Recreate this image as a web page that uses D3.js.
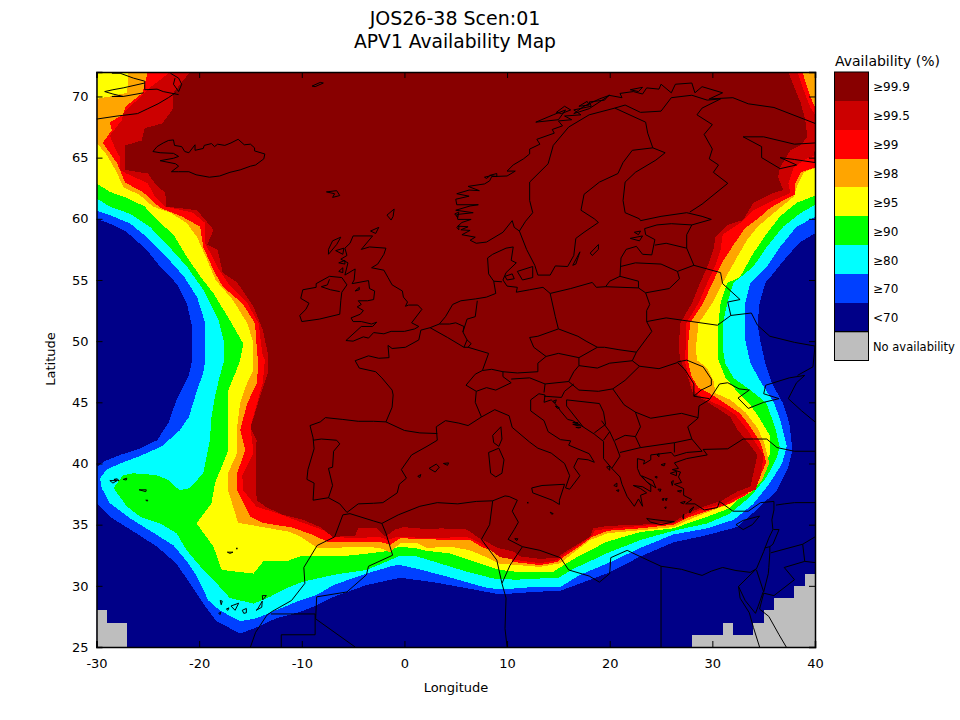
<!DOCTYPE html>
<html>
<head>
<meta charset="utf-8">
<script src="https://cdnjs.cloudflare.com/ajax/libs/d3/7.8.5/d3.min.js"></script>
<style>
html, body { margin: 0; padding: 0; background: #fff; }
text { font-family: "DejaVu Sans", sans-serif; fill: #000; }
</style>
</head>
<body>
<svg id="chart" width="960" height="720"></svg>
<script>
// legend rows, top to bottom
var legendLabels = ["≥99.9", "≥99.5", "≥99", "≥98", "≥95", "≥90", "≥80", "≥70", "<70", "No availability"];
var legendColors = ["#880000", "#cc0000", "#ff0000", "#ffa500", "#ffff00", "#00ff00", "#00ffff", "#0040ff", "#000088", "#bebebe"];
var lonTicks = [-30, -20, -10, 0, 10, 20, 30, 40];
var latTicks = [25, 30, 35, 40, 45, 50, 55, 60, 65, 70];

// availability contours as [lon, lat], read west to east round the coverage area
var contour70 = [[-30,60],[-28.7,59.6],[-27.1,58.95],[-25.1,57.45],[-23.8,56.1],[-22.2,54.7],[-21.2,53.1],[-20.7,51.2],[-20.65,48.5],[-21.05,47.1],[-22.2,45.2],[-23,43.3],[-24.1,41.9],[-25.8,41.2],[-27.7,40.7],[-29.3,40.15],[-30,39.7],[-30,36.75],[-28.7,35.65],[-26.7,34.6],[-24.1,33.2],[-22.2,31.8],[-20.9,30.2],[-19.4,28.3],[-18.3,27.1],[-16,26.1],[-14.1,26.7],[-12.5,27.35],[-10.2,27.85],[-8.55,28.4],[-6.9,29.1],[-3.7,30.06],[-0.43,30.66],[2.8,30.3],[6.1,29.8],[9.3,29.3],[12.6,29.5],[15.2,29.6],[17.45,30.3],[19.7,31],[23,32.4],[26.2,33.55],[29.5,34.15],[32.4,34.8],[34.3,36.2],[36.3,37.8],[37.4,39.7],[37.8,41.1],[37.5,43.3],[36.9,44.9],[35.8,46.55],[35.15,48.2],[34.65,50.1],[34.4,51.45],[34.6,53.1],[35.15,54.75],[36,55.6],[37.25,56.9],[38.55,58.1],[40,58.8]];
var contour80 = [[-30,60.66],[-28.7,60.3],[-26.7,59.6],[-25.1,58.5],[-23.2,56.9],[-21.5,55.3],[-20.2,53.6],[-19.4,51.45],[-19.4,48.45],[-19.6,47.4],[-20.2,46],[-21,43.8],[-21.9,42.7],[-23.65,41.4],[-25.8,40.6],[-27.7,40],[-29,39.5],[-29.65,38.8],[-29.5,38],[-28.7,36.75],[-26.7,35.5],[-24.1,34.15],[-22.5,33.3],[-21.2,32],[-20.2,30.75],[-19.1,28.8],[-18,28],[-16,27.1],[-14.4,27.35],[-12.8,27.9],[-10.5,28.7],[-8.55,29.25],[-6.9,30.07],[-3.7,31],[-1.1,31.65],[-0.43,31.7],[1.2,31.4],[4.4,30.7],[7.7,29.9],[9.3,29.7],[12.6,29.9],[15.2,29.9],[17.1,30.9],[19.7,31.8],[23,33.1],[26.2,34.2],[29.5,34.7],[32.1,35.4],[34,36.7],[35.6,38.4],[36.8,40],[37.25,41.4],[36.7,43.3],[36.05,44.9],[34.8,46.55],[33.7,48.2],[33.2,50.1],[33.2,51.45],[33.2,53.1],[33.7,54.75],[35.3,56.05],[36.6,57.7],[38.2,59.35],[40,60.15]];
var contour90 = [[-30,61.67],[-28.7,61],[-26.7,60.4],[-24.8,59.35],[-22.8,57.6],[-21.2,56.1],[-19.6,54.2],[-18.1,51.7],[-17.55,49.8],[-17.55,48.45],[-18,47.1],[-18.45,45.5],[-18.8,43.8],[-18.95,41.9],[-19.6,39.2],[-20.9,38],[-21.9,37.8],[-23,38.65],[-24.15,39.05],[-26.4,39.2],[-27.4,39.05],[-28.35,38],[-27.05,36.5],[-25.75,35.65],[-23.8,35.1],[-22.2,34.3],[-21.2,32.9],[-19.9,31.6],[-18.3,30.2],[-17,29],[-14.7,28.55],[-13.1,29.1],[-11.5,29.8],[-9.85,30.35],[-6.9,30.9],[-3.7,31.3],[-1.4,32.1],[-0.43,32.46],[1.2,32.4],[2.8,32],[6.1,31.15],[8.66,30.6],[10.9,30.5],[13.2,30.6],[14.9,30.6],[16.5,31.4],[19.7,32.65],[23,33.75],[26.2,34.5],[29.5,35.1],[31.7,35.9],[33.7,37.3],[35.3,38.9],[36.3,40.55],[36.55,41.4],[36.1,43],[35.25,44.95],[33.7,46],[32.05,47],[31.25,48.2],[31,49.5],[31,50.3],[31.05,51.5],[31.45,53.1],[32.05,54.75],[34,56.1],[35.3,57.7],[36.9,59.35],[38.55,60.45],[40,61.13]];
var contour95 = [[-30,62.9],[-28.7,62.2],[-27,61.7],[-25.3,61],[-24.1,59.9],[-22.5,58.7],[-21.2,56.9],[-19.9,55.3],[-18.6,53.9],[-17,51.7],[-15.7,49.8],[-16,48.45],[-16.35,47.65],[-17.15,46],[-17.15,43.55],[-17.15,41.1],[-18.45,38.4],[-18.8,36.75],[-20.25,35.1],[-18.6,33.2],[-17.8,31.3],[-14.7,31],[-13.75,32],[-11.5,32],[-10.2,32.4],[-6.9,32.4],[-5,32.5],[-2,32.8],[-0.43,33.2],[1.2,33.06],[1.85,32.9],[4.4,32.65],[6.7,32],[9.3,31.3],[10.9,31.15],[13.5,31.15],[14.5,31.15],[16.5,32.2],[19.7,33.6],[23,34.4],[26.2,34.7],[29.5,35.65],[31.7,36.35],[33.35,37.8],[34.85,39.5],[35.65,40.85],[35.65,42.2],[34.7,43.55],[33.7,44.8],[32.45,45.85],[31.25,47.05],[30.6,48.45],[30.5,49.5],[30.6,51.5],[30.8,53.1],[31.45,54.75],[32.7,55.25],[34,57.2],[35.3,58.8],[36.6,60.2],[38.2,61.3],[40,61.9]];
var contour98 = [[-26.9,72],[-27,70.3],[-28.7,70],[-30,69.8],[-30,66.2],[-29.2,65.45],[-28.7,64.8],[-28,63.75],[-27.4,62.6],[-25.8,61.95],[-24.5,61],[-22.8,60.5],[-21.2,59.65],[-20.2,58.5],[-19.2,56.6],[-18.4,55],[-16.7,53.35],[-15.3,51.45],[-14.7,49.8],[-14.8,48.45],[-14.7,47.65],[-15.5,46.25],[-16,44.95],[-16.3,43],[-16.3,40.85],[-17.2,39.2],[-17.2,37.85],[-16.2,35.15],[-13.8,34.8],[-11.1,34.4],[-9.9,33.9],[-8.5,33.1],[-6.95,33.1],[-4.3,33.2],[-2.4,33.1],[-1.4,32.75],[-0.4,33.5],[1.2,33.5],[2.2,33.1],[4.5,33.2],[6.4,32.9],[8.1,32.3],[9.3,31.8],[11,31.7],[13.2,31.55],[15.2,31.85],[16.45,32.7],[18.1,33.75],[19.8,34.3],[23,34.55],[26.2,34.8],[27.85,35.45],[30.1,36.2],[31.9,36.75],[33.7,37.6],[34.85,38.65],[35.55,40.05],[35.05,41.7],[34.4,42.9],[33.2,44.2],[31.75,45.2],[30.3,45.75],[30.1,46.8],[29.5,47.8],[28.5,48.45],[28.4,49.5],[28.65,51.45],[30,53.1],[31,54.75],[32.4,56.85],[33.4,58.3],[34.4,59.35],[35.95,60.45],[37.9,61.8],[38.3,62.75],[38.9,63.8],[40,64.15],[40,72]];
var contour99 = [[-25,72],[-25.5,70.3],[-27.2,69.15],[-27.4,68.5],[-28.7,67.9],[-28.5,67.25],[-29.4,66.2],[-28.7,65.4],[-28,64.55],[-27.2,62.95],[-25.5,62.2],[-23.8,60.9],[-21.6,60.15],[-19.9,59.35],[-19.6,57.7],[-18.6,55.8],[-17.7,54.45],[-15.8,53.1],[-14.55,51.45],[-14.35,49],[-14.25,48.45],[-14.35,46.6],[-15.3,44.95],[-16,42.75],[-15.5,41.1],[-16.3,39.2],[-16.3,37.85],[-15,35.65],[-13.8,35.15],[-10.85,34.75],[-8.9,34.15],[-7.5,33.6],[-4.6,33.6],[-2.4,33.6],[-1.4,33.35],[-0.4,33.9],[1.8,33.8],[6.4,33.75],[7.7,33.1],[10,32.7],[10.6,31.95],[13.2,31.7],[14.9,31.95],[15.5,32.35],[17.1,33.25],[18.3,34],[19.8,34.5],[23,34.7],[26.2,35],[27.65,35.6],[29.8,36.2],[31.75,36.75],[33.4,37.5],[34.5,38.65],[35.25,40.1],[34.7,41.7],[33.7,43],[32.7,44.1],[31.45,44.8],[30,45.6],[28.65,46.2],[28,47.05],[27.6,48.45],[27.6,49.5],[27.85,51.5],[29.1,53.1],[30,54.75],[31,56.5],[32.05,57.85],[33.2,59.25],[34.5,60.05],[35.65,60.9],[36.9,61.5],[38.1,62],[38.1,62.9],[38.6,63.8],[40,64.2],[40,69.15],[39.55,69.95],[39.1,71.1],[38.8,72]];
var contour995 = [[-22.8,72],[-24.6,70.85],[-25.8,69.9],[-27.4,68.65],[-27.5,68.1],[-28.7,66.8],[-28.2,65.8],[-27.7,65],[-27.7,64],[-27.2,63.75],[-25,62.9],[-24.3,61.8],[-23.3,61],[-20.6,60.5],[-19.4,59.65],[-19.4,58],[-18.2,56.05],[-17.2,54.75],[-15.3,53.1],[-14.2,51.45],[-13.85,49],[-13.6,48.45],[-13.8,46.6],[-15,43],[-14.7,40.85],[-15.8,39.05],[-15.7,37.8],[-14.4,36.45],[-12.4,35.95],[-9.9,35.15],[-7.9,34.55],[-6.9,34],[-4.8,33.9],[-2.4,34],[-1.7,33.75],[-0.7,34],[2.8,33.9],[6.1,34],[7.4,33.5],[9.3,32.35],[11,32.1],[13.2,31.85],[14.9,32.1],[15.5,32.55],[17.1,33.4],[18.3,34.15],[18.6,34.55],[23,34.9],[26.2,35.1],[27.6,35.7],[29.1,36.3],[31.3,36.75],[32.7,37.4],[34.2,37.85],[34.7,39],[35,40.7],[34.2,41.7],[33.4,42.75],[32.2,44],[31.1,44.6],[29.1,45.35],[28.3,45.85],[27.7,47.05],[27.3,48.45],[27.4,49.4],[27.4,51.4],[28.65,53.1],[29.5,54.75],[30.3,56.2],[30.8,57.45],[31,58.7],[32.7,59.65],[34,60.7],[35.9,61.5],[37.6,62.1],[37.4,62.9],[37.9,64.15],[38.9,64.8],[40,65.2],[40,68.5],[39.55,69.1],[38.9,70.5],[38.3,72]];
var contour999 = [[-20.9,72],[-22.5,70.3],[-22.6,68.9],[-23.6,67.8],[-25.3,67.4],[-25.6,66.4],[-27.2,66],[-27.2,64],[-25,63.7],[-24.3,62.9],[-23.3,62.1],[-23.2,61],[-20.2,60.7],[-19.2,59.7],[-18.6,59.1],[-19.2,57.9],[-18.2,57.45],[-17.7,55.6],[-16.3,54.8],[-14.7,52.8],[-13.8,50.9],[-13.3,49],[-13.3,47.4],[-14.1,45.4],[-15,42.9],[-14.4,41.9],[-14.5,40.3],[-14.4,37],[-13.4,36.4],[-11.8,35.8],[-9.9,35.4],[-8.2,34.8],[-7,34],[-4.8,34.1],[-4.5,34.7],[-2.7,34.7],[-1.9,34],[-0.9,34.6],[-0.1,34.8],[2.8,34.6],[3.5,34.7],[6.1,34.6],[7.1,34],[9.1,33.1],[10.6,32.8],[11.3,32.4],[13.2,32.2],[14.9,32.3],[15.5,32.7],[17.1,33.5],[18.1,34],[18.4,34.7],[19.8,34.9],[23,35],[26.2,35.2],[27.6,35.95],[29.1,36.45],[31,37],[32.4,37.7],[33.7,38.1],[34,39.2],[34.4,40.7],[33.5,41.7],[32.5,42.7],[31.75,43.8],[30.5,44.5],[28.1,45.75],[27.6,47.1],[26.9,48.45],[26.7,49.5],[26.9,51.5],[28,53.1],[28.8,54.75],[29.5,56.05],[30.1,57.45],[30.3,58.5],[31.45,59.5],[33,59.9],[34,61.3],[35.9,62.1],[36.9,62.35],[36.4,63.4],[36.6,64.2],[37.6,65.6],[38.6,66],[39.25,66.7],[39.05,68.1],[38.6,69.5],[38.1,70.5],[37.4,72]];

// no-availability grid cells: [west lon, east lon, top lat], all from the bottom of the map
var noAvailCells = [[-30,-29,28],[-29,-27,27],[28,31,26],[31,32,27],[32,34,26],[34,35,27],[35,36,28],[36,38,29],[38,39,30],[39,40,31]];

// coast and border outlines, [lon, lat]
var coastEurope = [[-1.8,43.4],[-3,43.45],[-4.5,43.45],[-6,43.6],[-7.7,43.75],[-8.2,43.4],[-9.2,43.1],[-8.9,42.1],[-8.8,41.2],[-9.4,39.5],[-9.5,38.7],[-8.8,38.4],[-8.9,37],[-7.4,37.2],[-6.3,36.7],[-5.6,36],[-4.5,36.7],[-3,36.75],[-2.1,36.8],[-0.7,37.6],[-0.5,38.3],[0.2,38.8],[-0.3,39.5],[0.7,40.7],[2.2,41.4],[3.2,41.9],[3.1,43],[4,43.5],[5.3,43.3],[6.2,43.1],[7.5,43.8],[8.8,44.4],[10.2,43.9],[10.5,42.95],[12.2,41.75],[13,41.25],[14.3,40.85],[15.6,40],[16.1,39],[15.7,38],[16.1,37.9],[17.1,39],[16.5,39.7],[16.9,40.4],[17.9,40.3],[18.5,40.1],[18,40.8],[16,41.5],[16.2,41.85],[15.2,41.95],[14,42.6],[13.6,43.5],[12.3,44.3],[12.3,45.2],[13.1,45.7],[13.7,45.6],[13.6,45],[14.3,45.2],[14.9,44.7],[15.2,44.3],[15.9,43.6],[16.4,43.5],[17.4,43],[18.5,42.4],[19.4,41.8],[19.4,40.4],[20.2,39.6],[21,38.9],[21.2,38.3],[21.7,37.3],[22.4,36.5],[22.8,37.1],[23.2,36.5],[23,37.4],[23.6,37.6],[23,37.95],[22.3,38.2],[23.2,38.1],[24,37.7],[24,38.2],[23,39],[22.7,39.6],[22.7,40.4],[23.4,40.25],[23.3,39.95],[24,40.3],[24,40.7],[26,40.9],[26.3,40.6],[27.5,40.9],[29,41],[28,42],[27.6,43],[28.6,43.7],[28.7,44.7],[29.7,45.2],[30.7,46.5],[31.5,46.6],[32.6,46.1],[33.6,46],[32.5,45.35],[33.5,44.5],[35,45],[36.5,45.3],[35,45.7],[35.2,46.4],[37.5,47],[39,47.2],[38.2,46.6],[37.4,45.3],[38.7,44.3],[40,43.4]];
var coastTurkeyEgypt = [[40,41],[38,41],[36.3,41.3],[35.3,42],[34,42],[33,42],[31.5,41.2],[29.1,41.15],[29.5,40.7],[27.5,40.4],[26.3,40.05],[26.7,39.6],[26.1,39.5],[26.9,39.3],[26.7,38.9],[27,38.45],[26.3,38.3],[27.2,37.95],[27.2,37.4],[28,37.05],[27.4,36.7],[28.3,36.7],[29.2,36.2],[30.5,36.4],[30.7,36.9],[32,36.1],[33.5,36.1],[34.7,36.8],[36,36.9],[36,36.2],[35.8,35.4],[35.9,34.6],[35.5,33.9],[35,32.8],[34.3,31.4],[33.7,31.1],[32.3,31.25],[31,31.5],[29.9,31.2],[29,30.85],[27,31.35],[25,31.6],[23.2,32.3],[21.7,32.9],[20.1,32.3],[20,31],[19,30.3],[18,30.8],[16,31.3],[15.2,32.3],[13.2,32.9],[11.5,33.2],[10.1,33.8],[10.7,34.6],[11.1,35.2],[10.5,36.1],[11,37],[10.2,37.3],[9.8,37.35],[8.6,36.95],[7,36.9],[5.2,36.7],[3.2,36.8],[1.5,36.5],[-0.6,35.8],[-2.2,35.1],[-3,35.3],[-5.3,35.9],[-6,35.8],[-6.8,34],[-8.5,33.3],[-9.8,31.5],[-9.7,30.2],[-11,28.8],[-12.9,27.9],[-13.4,27.6],[-14.5,26.2],[-15,25]];
var coastRedSea = [[34.3,31.4],[32.55,29.95],[33.2,28.8],[34.2,27.75],[34.45,28.3],[34.95,29.5]];
var coastRedSea2 = [[32.55,29.95],[32.7,29],[33.6,27.8],[34,26.6],[34.6,25]];
var coastRedSea3 = [[35,29.4],[34.6,28.1],[35.5,27.5],[36.5,26],[37.2,25]];
var coastNorthWest = [[-1.8,43.4],[-1.2,44.6],[-1.1,45.6],[-1.2,46],[-2.2,47],[-2.8,47.5],[-4.4,47.8],[-4.8,48.4],[-3.5,48.8],[-2.5,48.6],[-1.5,48.65],[-1.6,49.65],[-1.2,49.4],[0.1,49.5],[1.4,50.1],[1.6,50.9],[2.5,51.1],[3.4,51.4],[4,52],[4.7,53],[5.5,53.3],[6.9,53.45],[8,53.6],[8.9,53.9],[8.7,54.9],[8.2,55.5],[8.1,56.8],[8.6,57.1],[9.9,57.6],[10.6,57.7],[10.4,56.6],[10.9,56.4],[9.9,55.6],[9.6,55],[10,54.5],[11,54.4],[10.9,54],[12.2,54.2],[13.5,54.4],[14.2,53.9],[16.2,54.3],[18.3,54.8],[18.7,54.4],[19.6,54.45],[20,54.9],[21,55.3],[21.1,56.8],[21.6,57.5],[22.6,57.75],[23.2,57.1],[24.1,57.05],[24.4,58.3],[23.5,58.7],[23.4,59.2],[24.6,59.5],[26,59.6],[28,59.5],[29.9,59.95],[29,60.2],[27.5,60.5],[25,60.2],[23,59.85],[22.9,60],[21.5,60.5],[21.3,61.5],[21.5,63],[22.5,63.8],[24.5,64.8],[25.4,65.4],[24.2,65.8],[22.2,65.6],[21.3,64.6],[20.8,63.7],[19,63],[17.5,62],[17.2,60.7],[18.5,60],[18.9,59.7],[17.5,58.9],[16.7,58.4],[16.5,57],[15.9,56.1],[14.7,56.15],[14.2,55.4],[13,55.4],[12.7,56.2],[11.9,57.5],[11.2,59],[10.7,59.3],[10.5,59.85],[9.6,58.9],[8,58.1],[7,58],[6.4,58.25],[6.9,58.5],[5.6,58.7],[6.4,59.05],[5.5,59.1],[6.2,59.35],[5.2,59.4],[5.6,59.7],[6.5,59.95],[5.2,59.95],[5.1,60.35],[6.7,60.5],[5,60.7],[6.4,61.05],[7.2,61.15],[5.1,61.15],[5,61.6],[6.3,61.85],[5.1,62.05],[6.3,62.35],[7.3,62.3],[6.2,62.65],[7.8,62.85],[8.3,63.1],[8.5,63.45],[10,63.5],[10.8,63.9],[10,63.9],[10.6,64.4],[11.6,64.9],[12.2,65.3],[12.2,65.7],[13.2,66.1],[12.9,66.5],[14.6,67],[14.4,67.3],[15.4,67.6],[15,68],[16.3,68.1],[15.6,68.4],[17.2,68.5],[16.5,68.9],[18.2,69.2],[18,69.55],[19.5,69.7],[19.9,70.1],[21.2,69.9],[21,70.25],[22.3,70.4],[23.2,70.2],[23.6,70.7],[24.8,70.6],[25,71],[26,70.3],[26.4,71],[28,71.1],[28.3,70.3],[29,70.8],[31,70.3],[29.7,69.8],[32,69.9],[33.5,69.4],[36,69.1],[40,67.8],[41,66.8],[40,66.2],[38,66.1],[35,66.7],[33,66.7],[34.8,65.9],[34.8,65],[36.6,64.1],[38.2,64.4],[36.6,65],[38,64.85],[40,64.6],[40,65.5]];
var coastBritain = [[-5.7,50.05],[-5,50],[-4,50.35],[-3.5,50.25],[-3,50.7],[-2,50.6],[-1.3,50.8],[0,50.8],[1,51],[1.4,51.2],[0.7,51.5],[1.7,52.6],[1.3,52.95],[0.4,52.95],[0.1,52.85],[0.3,53.2],[-0.1,53.6],[-0.2,54.1],[-1.2,54.6],[-1.6,55.2],[-2,55.8],[-3.2,56],[-2.6,56.3],[-2,57.1],[-1.8,57.6],[-3.4,57.7],[-4.2,57.5],[-3.1,58.6],[-5,58.6],[-5.3,58],[-5.8,57.6],[-5.6,57],[-6.2,56.7],[-5.5,56.4],[-5.8,55.4],[-4.8,55.9],[-4.9,55],[-5.1,54.7],[-3.5,54.95],[-3.4,54.3],[-2.9,54.1],[-3,53.4],[-3.6,53.3],[-4.5,53.3],[-4.2,53],[-4.6,52.8],[-4,52.5],[-4.3,52.2],[-5.2,51.9],[-5,51.6],[-4.2,51.6],[-3.2,51.4],[-2.7,51.55],[-3.1,51.2],[-4.2,51.2],[-5.7,50.05]];
var coastIreland = [[-6.3,52.2],[-8.3,51.8],[-10,51.6],[-10.2,52.1],[-9.6,52.6],[-9.3,53.1],[-10.1,53.5],[-9.9,54.2],[-8.6,54.4],[-8.6,54.7],[-7.3,55.3],[-6.1,55.2],[-5.6,54.6],[-6.1,54],[-6.2,53.3],[-6.3,52.2]];
var coastIceland = [[-22.7,63.85],[-22,63.85],[-21,63.85],[-20.3,63.6],[-19,63.4],[-18,63.5],[-17,63.8],[-16,64],[-15,64.3],[-14.5,64.4],[-13.7,64.9],[-13.6,65.3],[-14.6,65.55],[-14.6,65.8],[-15,66.1],[-15.6,66.05],[-16.2,66.5],[-16.9,66.2],[-17.5,66],[-18.2,66.1],[-18.5,65.9],[-18.8,66.15],[-19.5,66],[-19.6,65.75],[-20.4,65.6],[-20.4,66.05],[-21,65.4],[-21.4,65.5],[-21.7,65.9],[-22.4,66],[-22.5,66.45],[-23,66.4],[-23.5,66.2],[-24.1,65.9],[-24.5,65.5],[-23.8,65.4],[-22.5,65.35],[-22,65.1],[-22.5,64.95],[-23.8,64.75],[-22.3,64.5],[-22,64.3],[-22.7,63.85]];
var coastGreenland = [[-30,68.15],[-28,68.4],[-26,68.6],[-25,69],[-24,69.4],[-23,69.9],[-22.3,70.3]];
var coastGreenland2 = [[-22,70.15],[-23.5,70.4],[-24.1,70.6],[-25.3,70.55],[-25.3,71.25],[-26.4,71.5],[-27.7,71.9],[-28.5,71.9]];
var coastGreenland3 = [[-25.3,71.1],[-27.4,70.7],[-28.4,70.55],[-29.2,70.4],[-28.4,70.2],[-27.4,70],[-28.5,70],[-27.4,70],[-25.4,70.3]];
var coastGreenland4 = [[-22.8,71.9],[-22,71.5],[-21.7,71],[-22,70.4],[-22.5,71],[-22.35,71.5]];
var islandJanMayen = [[-9,70.85],[-8.2,71.15],[-7.9,71.1],[-8.7,70.8],[-9,70.85]];
var islandFaroe = [[-7.6,62.2],[-6.6,62.3],[-6.3,61.9],[-7,61.75],[-6.8,62.05],[-7.6,62.2]];
var islandShetland = [[-1.7,60.3],[-1,60.8],[-1.1,60.2],[-1.3,59.9],[-1.7,60.3]];
var islandOrkney = [[-3.3,59],[-2.5,59.3],[-2.8,58.8],[-3.3,59]];
var islandLewis = [[-6.2,58.5],[-7,58.2],[-7.4,57.5],[-7.4,57.1],[-6.6,57.9],[-6.2,58.5]];
var islandSkye = [[-6.7,57.4],[-5.9,57.6],[-6,57.1],[-6.7,57.4]];
var islandMull = [[-6.4,56.4],[-5.8,56.6],[-5.8,56.3],[-6.4,56.4]];
var islandIslay = [[-6.4,55.7],[-6,56],[-6,55.6],[-6.4,55.7]];
var islandMan = [[-4.8,54.1],[-4.4,54.4],[-4.4,54.2],[-4.8,54.1]];
var islandCyprus = [[32.3,35],[33,35.35],[34.6,35.7],[33.9,35],[33,34.6],[32.3,35]];
var islandCrete = [[23.6,35.5],[24.5,35.4],[25.5,35.3],[26.3,35.25],[25,35],[24,35.2],[23.6,35.5]];
var islandSicily = [[12.4,38],[13.4,38.2],[15.6,38.3],[15.1,37],[15.1,36.65],[14.4,37],[12.5,37.6],[12.4,38]];
var islandSardinia = [[8.2,40.9],[9.2,41.25],[9.7,40.3],[9.5,39.2],[8.9,38.9],[8.4,39.2],[8.2,40.9]];
var islandCorsica = [[8.6,42.3],[9.4,43],[9.5,42],[9.2,41.4],[8.7,41.7],[8.6,42.3]];
var islandMallorca = [[2.4,39.6],[3.1,39.95],[3.4,39.7],[3,39.3],[2.4,39.6]];
var islandMenorca = [[3.8,40],[4.3,40.05],[4.2,39.85],[3.8,40]];
var islandIbiza = [[1.3,38.95],[1.6,39.1],[1.5,38.85],[1.3,38.95]];
var islandGotland = [[18.1,57.2],[18.9,57.9],[18.9,57.5],[18.3,57],[18.1,57.2]];
var islandOland = [[16.4,56.2],[17.1,57.3],[16.7,56.3],[16.4,56.2]];
var islandZealand = [[11,55.7],[12.5,56.1],[12.5,55.2],[11.5,55],[11,55.7]];
var islandFunen = [[9.8,55.3],[10.5,55.5],[10.7,55.1],[10,55],[9.8,55.3]];
var islandSaaremaa = [[22,58.4],[23.2,58.6],[22.9,58.2],[22,58.4]];
var islandHiiumaa = [[22.4,58.9],[23,59],[22.8,58.7],[22.4,58.9]];
var islandLofoten = [[12.8,67.9],[14.5,68.5],[15.7,68.9],[15,68.1],[12.8,67.9]];
var islandTroms = [[16.5,68.6],[17.5,69.2],[19,69.8],[20,70.1],[18,69],[16.5,68.6]];
var islandVesteralen = [[14.8,68.7],[15.6,69.2],[16.2,68.9],[15.3,68.6],[14.8,68.7]];
var islandSenja = [[17,69.2],[17.8,69.6],[18,69.3],[17,69.2]];
var islandSoroya = [[22,70.55],[23.2,70.75],[22.8,70.4],[22,70.55]];
var islandHitra = [[8.3,63.55],[9,63.7],[9,63.45],[8.3,63.55]];
var islandSmola = [[7.8,63.4],[8.3,63.5],[8,63.3],[7.8,63.4]];
var islandSotra = [[4.9,60.4],[5.3,60.55],[5.2,60.1],[4.9,60.4]];
var islandKarmoy = [[5.1,59.3],[5.3,59.45],[5.3,59.1],[5.1,59.3]];
var islandEvia = [[23.1,39],[24.2,38.6],[24.5,38],[23.6,38.5],[23.1,39]];
var islandLesbos = [[25.9,39.2],[26.5,39.35],[26.5,39],[25.9,39.2]];
var islandChios = [[26,38.5],[26.2,38.6],[26.1,38.2],[26,38.5]];
var islandSamos = [[26.6,37.75],[27,37.8],[26.9,37.65],[26.6,37.75]];
var islandRhodes = [[27.8,36.2],[28.2,36.45],[27.8,35.95],[27.8,36.2]];
var islandKos = [[26.9,36.8],[27.35,36.9],[27.2,36.7],[26.9,36.8]];
var islandNaxos = [[25.4,37.1],[25.6,37.15],[25.5,36.95],[25.4,37.1]];
var islandParos = [[25.1,37.1],[25.3,37.15],[25.2,36.95],[25.1,37.1]];
var islandAndros = [[24.7,37.9],[25,37.9],[24.9,37.7],[24.7,37.9]];
var islandSantorini = [[25.35,36.4],[25.5,36.45],[25.45,36.3],[25.35,36.4]];
var islandKarpathos = [[27.1,35.6],[27.2,35.85],[27.2,35.45],[27.1,35.6]];
var islandLemnos = [[25,39.9],[25.4,40],[25.3,39.8],[25,39.9]];
var islandThasos = [[24.6,40.7],[24.8,40.8],[24.8,40.55],[24.6,40.7]];
var islandSkyros = [[24.4,38.9],[24.6,38.95],[24.6,38.8],[24.4,38.9]];
var islandCorfu = [[19.7,39.7],[20,39.8],[20,39.45],[19.7,39.7]];
var islandKefalonia = [[20.4,38.2],[20.7,38.4],[20.7,38.1],[20.4,38.2]];
var islandZakynthos = [[20.65,37.8],[20.9,37.85],[20.85,37.7],[20.65,37.8]];
var islandKrk = [[14.5,45.1],[14.8,45.2],[14.7,44.95],[14.5,45.1]];
var islandPag = [[14.7,44.7],[15.1,44.55],[14.9,44.5],[14.7,44.7]];
var islandBrac = [[16.4,43.35],[16.9,43.35],[16.8,43.25],[16.4,43.35]];
var islandHvar = [[16.4,43.2],[17.1,43.15],[16.8,43.1],[16.4,43.2]];
var islandKorcula = [[16.7,42.95],[17.2,42.97],[17,42.9],[16.7,42.95]];
var islandMalta = [[14.2,36.02],[14.5,35.9],[14.35,35.85],[14.2,36.02]];
var islandPantelleria = [[11.95,36.8],[12.05,36.83],[12.05,36.75],[11.95,36.8]];
var islandDjerba = [[10.75,33.85],[11.05,33.85],[10.95,33.7],[10.75,33.85]];
var islandPalma = [[-17.95,28.8],[-17.75,28.75],[-17.85,28.45],[-17.95,28.8]];
var islandGomera = [[-17.35,28.1],[-17.1,28.2],[-17.2,28],[-17.35,28.1]];
var islandTenerife = [[-16.9,28.35],[-16.15,28.58],[-16.5,28],[-16.9,28.35]];
var islandCanaria = [[-15.8,28],[-15.4,28.15],[-15.4,27.8],[-15.65,27.75],[-15.8,28]];
var islandFuerte = [[-14.3,28.1],[-13.85,28.75],[-13.9,28.25],[-14.45,28],[-14.3,28.1]];
var islandLanzarote = [[-13.85,29.2],[-13.45,29.2],[-13.8,28.85],[-13.85,29.2]];
var islandHierro = [[-18.1,27.75],[-17.9,27.85],[-17.95,27.65],[-18.1,27.75]];
var islandMadeira = [[-17.25,32.75],[-16.7,32.75],[-17,32.65],[-17.25,32.75]];
var islandPorto = [[-16.4,33.05],[-16.3,33.1],[-16.3,33],[-16.4,33.05]];
var islandPico = [[-28.7,38.6],[-28,38.6],[-28.4,38.4],[-28.7,38.6]];
var islandJorge = [[-28.3,38.7],[-27.8,38.6],[-28,38.75],[-28.3,38.7]];
var islandTerceira = [[-27.4,38.7],[-27.05,38.8],[-27.1,38.65],[-27.4,38.7]];
var islandMiguel = [[-25.85,37.85],[-25.15,37.85],[-25.2,37.7],[-25.85,37.85]];
var islandMaria = [[-25.2,37],[-25,37],[-25.05,36.92],[-25.2,37]];

var borders = [
  [[11.2,59],[11.8,59.8],[12.5,60.5],[12.2,61.5],[12.2,63],[14,64.5],[14.5,66],[16,67.5],[18,68.5],[20.5,69.05],[21.5,69.3]],
  [[24.2,65.8],[23.7,67],[23.5,67.9],[20.5,69.05]],
  [[21.5,69.3],[23,68.7],[25,68.8],[26,69.9],[28,70.1],[29.5,69.7],[30.8,69.8]],
  [[30.8,69.8],[29,69.05],[28.5,68.5],[30,67.7],[29.2,66.9],[30,65.7],[29.7,64.9],[30.6,64.4],[30.1,63.8],[31.5,62.9],[29,61.2],[27.8,60.55]],
  [[28,59.5],[27.5,58.7],[27.5,57.6],[28.2,56.2]],
  [[24.4,57.85],[25.5,58],[27.5,57.6]],
  [[21.05,56.1],[22.5,56.4],[25,56.3],[26.6,55.7],[28.2,56.2],[30.8,55.6],[31,54.7],[32.7,53.4],[31.5,53.2],[31.8,52.1],[33.8,52.3],[34.4,51.3],[35.6,50.4],[38,49.9],[40,49.6]],
  [[40,49.6],[39.8,47.9],[38.3,47.2]],
  [[23.6,51.6],[25.5,51.9],[28,51.6],[30.5,51.3],[31.8,52.1]],
  [[26.6,55.7],[26.8,55.1],[25.8,54.3],[23.5,53.95],[23.9,53],[23.6,52.5],[23.6,51.6],[24.1,50.8],[22.6,49.1],[20.9,49.3],[19.5,49.5],[18.8,49.5],[17.7,50],[16.9,50.4],[15,51],[14.7,52],[14.2,53.9]],
  [[21,55.3],[22.8,54.9],[22.8,54.35],[23.5,53.95]],
  [[19.6,54.45],[22.8,54.35]],
  [[15,51],[13,50.4],[12.2,50.3],[12.6,49.5],[13.8,48.75],[13,48.2],[13,47.5],[11,47.4],[9.6,47.5],[8.5,47.7],[7.6,47.6],[6.9,47.3],[6,46.4],[7,45.9],[8,46.2],[8.9,46],[10.4,46.6],[9.6,47.1],[9.6,47.5]],
  [[10.4,46.9],[12.2,47],[13.7,46.5],[16,46.7],[16.5,47.5],[17,48],[18.8,47.8],[20,48.2],[22.2,48.4],[22.6,49.1]],
  [[13.8,48.75],[15,49],[17,48.65],[17,48]],
  [[17,48.65],[18.8,49.5]],
  [[22.2,48.4],[22.9,47.95],[21.5,46.8],[20.3,46.1],[18.9,45.9],[17,46],[16,46.7]],
  [[13.7,46.5],[13.6,45.8]],
  [[16.5,46.5],[15.6,45.9],[15.3,45.4],[13.6,45.5]],
  [[19,44.9],[15.8,45.2],[15.8,44.7],[17.4,43]],
  [[19,44.9],[19.4,44.2],[19.6,43.2],[18.5,42.5]],
  [[20.3,46.1],[21.4,44.8],[22.5,44.2],[23,43],[22.5,42.2]],
  [[19.4,41.9],[20,42.6],[19.2,43.5]],
  [[20,42.6],[20.5,41.7],[21,40.6],[20.2,39.6]],
  [[20.5,41.9],[21.5,42.3],[22.5,42.2],[23,41.3],[21,40.9]],
  [[23,41.3],[26.3,41.7],[28,42]],
  [[26.3,40.9],[26.3,41.7]],
  [[22.5,44.2],[24,43.7],[27,44.1],[28.6,43.75]],
  [[22.9,47.95],[24.8,47.75],[26.6,48.25],[27.3,47.7],[28.2,46.5],[28.2,45.5],[29.7,45.3]],
  [[26.6,48.3],[27.5,48.45],[29.1,47.9],[29.9,46.9],[29.9,46.4],[28.9,46],[28.2,45.5]],
  [[36.2,36.6],[37,36.7],[38,36.8],[40,36.8]],
  [[35.95,34.6],[36.5,34.6],[35.9,33.4],[35.6,33.2]],
  [[35.7,32.7],[38.8,33.4],[40,34]],
  [[38.8,33.4],[39,32],[37,31.5],[38,30.5],[36,29.2],[35,29.4]],
  [[39,32],[40,31.9]],
  [[35.1,33.1],[35.6,33.2],[35.6,32.7],[35.5,31.5],[35.45,31],[35,29.5],[34.3,31.3]],
  [[25,31.6],[25,25]],
  [[11.5,33.2],[10.3,31.7],[9.5,30.2]],
  [[8.6,36.95],[8.3,35],[7.5,33.8],[9,32.1],[9.5,30.2],[9.9,29],[9.8,26.5],[10,25]],
  [[-2.2,35.1],[-1.8,34.3],[-1.15,32.5],[-3.5,31.6],[-3.7,30.9],[-5.6,29.5],[-8.55,29.1],[-8.65,27.3],[-4.8,25]],
  [[-13,27.7],[-8.7,27.7]],
  [[-8.7,26],[-12,26],[-12,25]],
  [[-8.7,27.7],[-8.7,26]],
  [[-8.9,41.9],[-8.1,42],[-6.6,41.9],[-6.3,41.6],[-6.9,41],[-7,39.7],[-7.4,39.6],[-7,38.2],[-7.4,37.2]],
  [[-1.8,43.4],[0,42.7],[1.5,42.5],[3.2,42.45]],
  [[2.5,51.1],[4.2,50.3],[5.8,49.5],[6.2,49.5],[8.2,49],[7.6,47.6]],
  [[5.8,49.5],[6.1,50.1],[6.5,49.8],[6.2,49.5]],
  [[3.4,51.4],[4.4,51.4],[5,51.5],[5.8,51.2],[5.7,50.75],[6.1,50.1]],
  [[5.7,50.75],[6.1,51.8],[6.9,52],[7.1,53.3]],
  [[7,45.9],[6.9,45],[7.5,43.8]],
  [[8.7,54.9],[9.5,54.85]],
  [[-7.3,55.05],[-7.5,54.6],[-8.1,54.45],[-7.2,54.2],[-6.3,54.05]]
];

var coastLines = [coastEurope, coastTurkeyEgypt, coastRedSea, coastRedSea2, coastRedSea3, coastNorthWest, coastBritain, coastIreland, coastIceland, coastGreenland, coastGreenland2, coastGreenland3, coastGreenland4, islandJanMayen, islandFaroe, islandShetland, islandOrkney, islandLewis, islandSkye, islandMull, islandIslay, islandMan, islandCyprus, islandCrete, islandSicily, islandSardinia, islandCorsica, islandMallorca, islandMenorca, islandIbiza, islandGotland, islandOland, islandZealand, islandFunen, islandSaaremaa, islandHiiumaa, islandLofoten, islandTroms, islandVesteralen, islandSenja, islandSoroya, islandHitra, islandSmola, islandSotra, islandKarmoy, islandEvia, islandLesbos, islandChios, islandSamos, islandRhodes, islandKos, islandNaxos, islandParos, islandAndros, islandSantorini, islandKarpathos, islandLemnos, islandThasos, islandSkyros, islandCorfu, islandKefalonia, islandZakynthos, islandKrk, islandPag, islandBrac, islandHvar, islandKorcula, islandMalta, islandPantelleria, islandDjerba, islandPalma, islandGomera, islandTenerife, islandCanaria, islandFuerte, islandLanzarote, islandHierro, islandMadeira, islandPorto, islandPico, islandJorge, islandTerceira, islandMiguel, islandMaria];

var plot = {left: 96.5, right: 815, top: 72, bottom: 647};
var svg = d3.select("#chart");
var x = d3.scaleLinear().domain([-30, 40]).range([plot.left, plot.right]);
var y = d3.scaleLinear().domain([25, 72]).range([plot.bottom, plot.top]);
var line = d3.line().x(function(d){ return x(d[0]); }).y(function(d){ return y(d[1]); });

svg.append("clipPath").attr("id", "plotClip").append("rect")
	.attr("x", plot.left).attr("y", plot.top)
	.attr("width", plot.right - plot.left).attr("height", plot.bottom - plot.top);

var map = svg.append("g").attr("clip-path", "url(#plotClip)");

// navy background is the <70 band
map.append("rect")
	.attr("x", plot.left).attr("y", plot.top)
	.attr("width", plot.right - plot.left).attr("height", plot.bottom - plot.top)
	.attr("fill", legendColors[8]);

// lowest band first, each higher one paints over it. first four need the top corners to close
var corners = [[40, 72], [-30, 72]];
var bands = [
	{pts: contour70.concat(corners), color: legendColors[7]},
	{pts: contour80.concat(corners), color: legendColors[6]},
	{pts: contour90.concat(corners), color: legendColors[5]},
	{pts: contour95.concat(corners), color: legendColors[4]},
	{pts: contour98, color: legendColors[3]},
	{pts: contour99, color: legendColors[2]},
	{pts: contour995, color: legendColors[1]},
	{pts: contour999, color: legendColors[0]}
];
map.selectAll("path.band").data(bands).enter().append("path")
	.attr("class", "band")
	.attr("d", function(d){ return line(d.pts) + "Z"; })
	.attr("fill", function(d){ return d.color; })
	.attr("shape-rendering", "crispEdges");

map.selectAll("rect.noavail").data(noAvailCells).enter().append("rect")
	.attr("class", "noavail")
	.attr("x", function(d){ return x(d[0]); })
	.attr("width", function(d){ return x(d[1]) - x(d[0]); })
	.attr("y", function(d){ return y(d[2]); })
	.attr("height", function(d){ return y(25) - y(d[2]); })
	.attr("fill", legendColors[9])
	.attr("shape-rendering", "crispEdges");

map.selectAll("path.coast").data(coastLines.concat(borders)).enter().append("path")
	.attr("class", "coast")
	.attr("d", line)
	.attr("fill", "none")
	.attr("stroke", "#000")
	.attr("stroke-width", 1);

// axes, ticks point inward on all four sides
var xBottom = d3.axisBottom(x).tickValues(lonTicks).tickSize(-6).tickPadding(12);
var yLeft = d3.axisLeft(y).tickValues(latTicks).tickSize(-6).tickPadding(8);
var xTop = d3.axisTop(x).tickValues(lonTicks).tickSize(-6).tickFormat("");
var yRight = d3.axisRight(y).tickValues(latTicks).tickSize(-6).tickFormat("");

var gBottom = svg.append("g").attr("transform", "translate(0," + plot.bottom + ")").call(xBottom);
var gLeft = svg.append("g").attr("transform", "translate(" + plot.left + ",0)").call(yLeft);
svg.append("g").attr("transform", "translate(0," + plot.top + ")").call(xTop);
svg.append("g").attr("transform", "translate(" + plot.right + ",0)").call(yRight);

svg.selectAll(".domain").attr("stroke", "#000").attr("stroke-width", 1.5);
svg.selectAll(".tick line").attr("stroke", "#000").attr("stroke-width", 1);
svg.selectAll(".tick text").style("font-family", '"DejaVu Sans", sans-serif').style("font-size", "13px").attr("fill", "#000");
gLeft.selectAll(".tick text").text(function(d){ return d; });
gBottom.selectAll(".tick text").text(function(d){ return d; });

// titles
svg.append("text").attr("x", 455).attr("y", 25).attr("text-anchor", "middle").style("font-size", "19px").text("JOS26-38 Scen:01");
svg.append("text").attr("x", 455).attr("y", 48).attr("text-anchor", "middle").style("font-size", "18.7px").text("APV1 Availability Map");
svg.append("text").attr("x", 456).attr("y", 692).attr("text-anchor", "middle").style("font-size", "13px").text("Longitude");
svg.append("text").attr("transform", "translate(55,359) rotate(-90)").attr("text-anchor", "middle").style("font-size", "13px").text("Latitude");

// legend
var legendRow = d3.scaleBand().domain(d3.range(legendLabels.length)).range([72, 360.5]);
svg.append("text").attr("x", 835).attr("y", 66).style("font-size", "14px").text("Availability (%)");
svg.selectAll("rect.leg").data(legendColors).enter().append("rect")
	.attr("class", "leg")
	.attr("x", 834.5).attr("width", 34)
	.attr("y", function(d, i){ return legendRow(i); })
	.attr("height", legendRow.bandwidth())
	.attr("fill", function(d){ return d; })
	.attr("shape-rendering", "crispEdges");
svg.append("rect").attr("x", 834.5).attr("y", 72).attr("width", 34).attr("height", legendRow(9) - 72)
	.attr("fill", "none").attr("stroke", "#000");
svg.append("rect").attr("x", 834.5).attr("y", legendRow(9)).attr("width", 34).attr("height", legendRow.bandwidth())
	.attr("fill", "none").attr("stroke", "#000");
svg.selectAll("text.leg").data(legendLabels).enter().append("text")
	.attr("class", "leg")
	.attr("x", 873)
	.attr("y", function(d, i){ return legendRow(i) + legendRow.bandwidth() / 2 + 5; })
	.style("font-size", function(d, i){ return i == 9 ? "11.5px" : "12px"; })
	.text(function(d){ return d; });
</script>
</body>
</html>
